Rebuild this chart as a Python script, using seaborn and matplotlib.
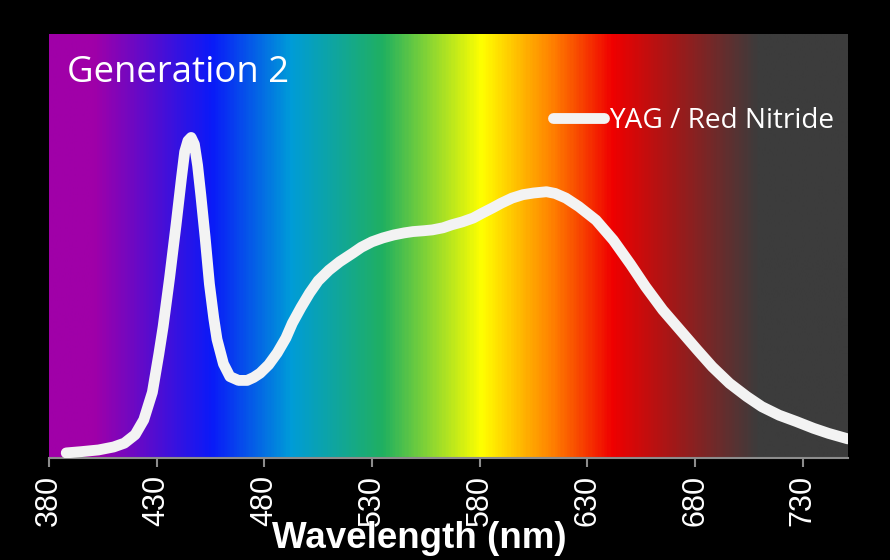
import numpy as np
import pandas as pd
import matplotlib
matplotlib.use("Agg")
import matplotlib.pyplot as plt
from matplotlib.colors import LinearSegmentedColormap
import seaborn as sns

# ---- data ----
wavelength = [388, 395, 403, 410, 415, 420, 424, 428, 431, 433, 436, 439, 441.5, 443,
              444.5, 446, 447.5, 449, 450.5, 452.5, 454.5, 456.5, 458, 461, 464, 468,
              472, 475, 478, 482, 486, 490, 493, 497, 501, 505, 510, 515, 521, 525,
              530, 535, 540, 545, 549, 554, 558, 563, 567, 572, 577, 581, 586, 590,
              595, 600, 605, 611, 615, 620, 626, 634, 642, 650, 657, 665, 673, 681,
              688, 696, 704, 711, 719, 727, 735, 742, 751]
intensity = [0.012, 0.015, 0.019, 0.026, 0.035, 0.055, 0.090, 0.155, 0.245, 0.310,
             0.425, 0.550, 0.660, 0.722, 0.748, 0.756, 0.740, 0.690, 0.620, 0.520,
             0.410, 0.330, 0.280, 0.222, 0.192, 0.183, 0.183, 0.190, 0.200, 0.220,
             0.248, 0.283, 0.318, 0.355, 0.389, 0.418, 0.443, 0.463, 0.483, 0.497,
             0.510, 0.519, 0.526, 0.531, 0.534, 0.536, 0.538, 0.543, 0.550, 0.557,
             0.566, 0.577, 0.590, 0.601, 0.613, 0.621, 0.625, 0.628, 0.624, 0.613,
             0.593, 0.561, 0.514, 0.457, 0.404, 0.349, 0.302, 0.255, 0.215, 0.176,
             0.145, 0.121, 0.101, 0.086, 0.070, 0.058, 0.045]
series_name = "YAG / Red Nitride"
title_text = "Generation 2"
tick_values = [380, 430, 480, 530, 580, 630, 680, 730]
x_label = "Wavelength (nm)"

# spectrum background stops (nm, colour)
spec_nm = [380, 400, 455, 492, 535, 581, 614, 642, 670, 710, 751]
spec_col = ["#A000A8", "#A000A8", "#0A1AF8", "#009CD8", "#20B060", "#FFFF00",
            "#FF8000", "#F00000", "#A31818", "#3C3C3C", "#3C3C3C"]

df = pd.DataFrame({"wavelength": wavelength, "intensity": intensity,
                   "series": series_name})

sns.set_theme(style="dark")
plt.rcParams["font.family"] = ["Liberation Sans", "DejaVu Sans"]

fig = plt.figure(figsize=(8.9, 5.6), dpi=100, facecolor="black")
ax = fig.add_axes([49/890, (560-458)/560, (848-49)/890, (458-34)/560])
ax.set_facecolor("black")

xmin, xmax = 380, 751
pos = [(v - xmin) / (xmax - xmin) for v in spec_nm]
cmap = LinearSegmentedColormap.from_list("spec", list(zip(pos, spec_col)))
grad = np.linspace(0, 1, 600).reshape(1, -1)
ax.imshow(grad, cmap=cmap, aspect="auto", extent=[xmin, xmax, 0, 1],
          interpolation="bilinear", zorder=0)

sns.lineplot(data=df, x="wavelength", y="intensity", hue="series",
             palette=["#F3F3F3"], linewidth=7.8, ax=ax, zorder=3)
for ln in ax.get_lines():
    ln.set_solid_capstyle("round")
    ln.set_solid_joinstyle("round")

ax.set_xlim(xmin, xmax)
ax.set_ylim(0, 1)
ax.set_xticks(tick_values)
ax.set_xticklabels([str(t) for t in tick_values], rotation=90,
                   fontsize=22, color="white")
ax.tick_params(axis="x", direction="out", length=6.5, width=1.5,
               color="#8C8C8C", pad=6, bottom=True)
ax.set_yticks([])
ax.set_ylabel("")
for s in ["left", "right", "top"]:
    ax.spines[s].set_visible(False)
ax.spines["bottom"].set_color("#8C8C8C")
ax.spines["bottom"].set_linewidth(1.5)
ax.grid(False)

ax.set_xlabel(x_label, fontsize=26.5, fontweight="bold", color="white")
ax.xaxis.label.set_va("baseline")
ax.xaxis.set_label_coords((419-49)/(848-49), -(548-458)/424)

fig.text(67/890, (560-82)/560, title_text, fontsize=26.3, color="white",
         family=["Open Sans", "DejaVu Sans"], va="baseline", ha="left")

handles, labels = ax.get_legend_handles_labels()
leg = ax.legend(handles, labels, loc="center left",
                bbox_to_anchor=(553/890, (560-121)/560),
                bbox_transform=fig.transFigure, frameon=False,
                borderpad=0, borderaxespad=0, handlelength=1.8,
                handletextpad=0.2,
                prop={"family": ["Open Sans", "DejaVu Sans"], "size": 20.2})
for t in leg.get_texts():
    t.set_color("white")
for h in leg.get_lines():
    h.set_linewidth(7.8)
    h.set_solid_capstyle("round")

fig.savefig("out.png", dpi=100, facecolor="black")
